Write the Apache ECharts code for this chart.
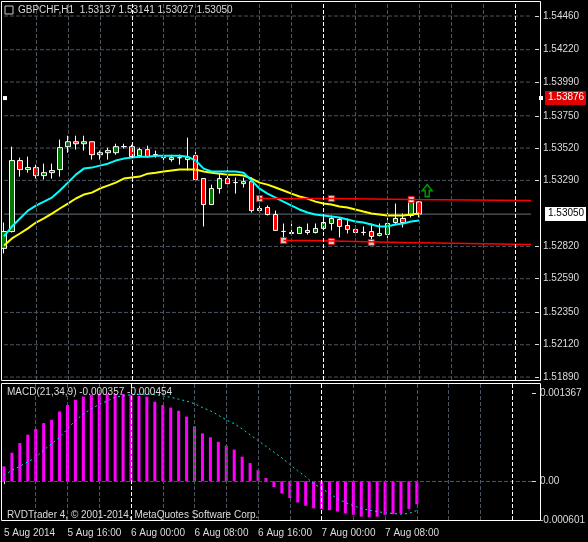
<!DOCTYPE html>
<html><head><meta charset="utf-8">
<script src="https://cdn.jsdelivr.net/npm/echarts@6/dist/echarts.min.js"></script>
<style>html,body{margin:0;padding:0;background:#000}#c{width:588px;height:542px}</style>
</head><body><div id="c"></div>
<script>
// Candles: [open, close, low, high]
const candles = [
[1.52806,1.52926,1.52770,1.52990],[1.52926,1.53431,1.52919,1.53530],[1.53431,1.53367,1.53317,1.53452],
[1.53367,1.53381,1.53345,1.53459],[1.53381,1.53324,1.53303,1.53402],[1.53324,1.53345,1.53296,1.53409],
[1.53345,1.53360,1.53303,1.53409],[1.53367,1.53523,1.53317,1.53580],[1.53530,1.53565,1.53487,1.53608],
[1.53565,1.53551,1.53509,1.53608],[1.53551,1.53565,1.53502,1.53608],[1.53565,1.53473,1.53438,1.53565],
[1.53473,1.53487,1.53438,1.53502],[1.53487,1.53502,1.53438,1.53523],[1.53487,1.53530,1.53473,1.53551],
[1.53530,1.53531,1.53516,1.53551],[1.53530,1.53459,1.53452,1.53544],[1.53466,1.53509,1.53452,1.53523],
[1.53509,1.53459,1.53452,1.53537],[1.53473,1.53474,1.53452,1.53502],[1.53452,1.53453,1.53416,1.53480],
[1.53438,1.53452,1.53423,1.53473],[1.53452,1.53451,1.53402,1.53473],[1.53438,1.53452,1.53360,1.53594],
[1.53466,1.53296,1.53289,1.53502],[1.53303,1.53118,1.52962,1.53303],[1.53118,1.53232,1.53118,1.53260],
[1.53232,1.53303,1.53196,1.53338],[1.53303,1.53267,1.53260,1.53367],[1.53274,1.53275,1.53196,1.53310],
[1.53267,1.53281,1.53239,1.53310],[1.53281,1.53075,1.53061,1.53310],[1.53075,1.53090,1.53061,1.53111],
[1.53097,1.53047,1.53040,1.53111],[1.53047,1.52934,1.52934,1.53075],[1.52926,1.52927,1.52877,1.52983],
[1.52919,1.52912,1.52912,1.52983],[1.52912,1.52955,1.52912,1.52962],[1.52934,1.52919,1.52905,1.52983],
[1.52919,1.52948,1.52912,1.52983],[1.52948,1.52990,1.52934,1.53026],[1.52983,1.53019,1.52934,1.53040],
[1.53012,1.52962,1.52884,1.53026],[1.52969,1.52941,1.52912,1.53019],[1.52941,1.52919,1.52905,1.52969],
[1.52919,1.52920,1.52898,1.52962],[1.52926,1.52891,1.52848,1.52983],[1.52898,1.52912,1.52891,1.52983],
[1.52905,1.52983,1.52877,1.53061],[1.52990,1.53019,1.52969,1.53125],[1.53019,1.52990,1.52955,1.53054],
[1.53040,1.53137,1.53026,1.53161],[1.53137,1.53050,1.53027,1.53141]
];
const maFast = [1.52891,1.52962,1.53019,1.53075,1.53111,1.53139,1.53168,1.53218,1.53274,1.53331,1.53374,1.53381,
1.53395,1.53409,1.53431,1.53445,1.53452,1.53459,1.53459,1.53466,1.53466,1.53466,1.53466,1.53459,1.53431,1.53374,
1.53353,1.53353,1.53353,1.53353,1.53345,1.53289,1.53232,1.53196,1.53168,1.53139,1.53111,1.53083,1.53061,1.53047,
1.53040,1.53033,1.53026,1.53012,1.52997,1.52990,1.52976,1.52962,1.52962,1.52976,1.52983,1.52997,1.53005];
const maSlow = [1.52827,1.52877,1.52912,1.52948,1.52990,1.53019,1.53054,1.53090,1.53125,1.53161,1.53189,1.53203,
1.53232,1.53253,1.53274,1.53303,1.53310,1.53317,1.53338,1.53345,1.53353,1.53360,1.53367,1.53367,1.53367,1.53353,
1.53345,1.53338,1.53331,1.53331,1.53324,1.53303,1.53274,1.53260,1.53239,1.53218,1.53196,1.53175,1.53161,1.53139,
1.53125,1.53118,1.53104,1.53097,1.53083,1.53068,1.53054,1.53047,1.53040,1.53040,1.53040,1.53047,1.53054];
const macdHist = [0.00023,0.00044,0.00059,0.00072,0.00081,0.00090,0.00095,0.00108,0.00118,0.00126,0.00131,0.00134,
0.00135,0.00135,0.00135,0.00135,0.00134,0.00132,0.00131,0.00123,0.00118,0.00114,0.00109,0.00100,0.00085,0.00074,
0.00068,0.00061,0.00055,0.00049,0.00038,0.00028,0.00017,0.00005,-0.00009,-0.00019,-0.00026,-0.00033,-0.00038,
-0.00042,-0.00043,-0.00045,-0.00047,-0.00050,-0.00052,-0.00055,-0.00056,-0.00055,-0.00052,-0.00051,-0.00050,-0.00043,-0.000357];
const macdSignal = [0.00009,0.00017,0.00023,0.00030,0.00037,0.00048,0.00058,0.00068,0.00081,0.00094,0.00104,0.00112,
0.00119,0.00124,0.00130,0.00132,0.00134,0.00134,0.00135,0.00134,0.00132,0.00130,0.00127,0.00124,0.00120,0.00114,
0.00109,0.00102,0.00095,0.00089,0.00081,0.00072,0.00063,0.00054,0.00045,0.00036,0.00026,0.00016,0.00007,-0.00004,
-0.00011,-0.00019,-0.00027,-0.00033,-0.00038,-0.00042,-0.00045,-0.00047,-0.00049,-0.00050,-0.00051,-0.00050,-0.000454];
const upperLevel = [[32,1.53161],[41,1.53161],[51,1.53154],[66,1.53147]];
const lowerLevel = [[35,1.52862],[38,1.52862],[38,1.52855],[44,1.52855],[44,1.52848],[50,1.52848],[50,1.52841],[58,1.52841],[58,1.52834],[66,1.52834]];
const levelMarks = [[32,1.53161],[41,1.53161],[51,1.53154],[35,1.52862],[41,1.52855],[46,1.52848]];
const arrowMark = [[53,1.53217]];
const priceTicks = [1.54460,1.54220,1.53990,1.53750,1.53520,1.53290,1.52820,1.52590,1.52350,1.52120,1.51890];
const gridPrices = [1.54460,1.54220,1.53990,1.53750,1.53520,1.53290,1.53050,1.52820,1.52590,1.52350,1.52120,1.51890];
const lastPrice = 1.53050, alertPrice = 1.53876;
const macdTicks = [0.001367, 0.00, -0.000601];
const timeLabels = {0:'5 Aug 2014',8:'5 Aug 16:00',16:'6 Aug 00:00',24:'6 Aug 08:00',32:'6 Aug 16:00',40:'7 Aug 00:00',48:'7 Aug 08:00'};
const dayLines = [16,40,64];
const N = 67;
const cats = Array.from({length:N},(_,i)=>String(i));

const FONT = 'Liberation Sans';
const fg = '#dcdcdc';
const grey = '#4a5560';
const vGrid = [];
for (let i=4;i<N;i+=4) vGrid.push({xAxis:i, lineStyle:{color: dayLines.includes(i)?'#ffffff':grey, type:'dashed', width:1}});

const gridSeries = gridPrices.map(p=>({type:'line',xAxisIndex:0,yAxisIndex:0,symbol:'none',silent:true,z:0,
  data:[[0,p],[N-1,p]],lineStyle:{color: p===lastPrice?'#66707a':grey,type: p===lastPrice?'solid':'dashed',width:1}}));

const chart = echarts.init(document.getElementById('c'), null, {renderer:'canvas'});
chart.setOption({
  backgroundColor:'#000',
  animation:false,
  textStyle:{fontFamily:FONT},
  grid:[{left:-1,right:53,top:1,height:379},{left:-1,right:53,top:384,height:136}],
  xAxis:[
    {type:'category',data:cats,gridIndex:0,axisLine:{show:false},axisTick:{show:false},axisLabel:{show:false},splitLine:{show:false}},
    {type:'category',data:cats,gridIndex:1,axisLine:{show:false},
     axisTick:{show:true,alignWithLabel:true,interval:(i)=>i in timeLabels,lineStyle:{color:fg},length:3},
     axisLabel:{show:true,interval:(i)=>i in timeLabels,formatter:(v,i)=>timeLabels[i]||'',color:fg,fontSize:10,align:'left',margin:8,fontFamily:FONT},
     splitLine:{show:false}}
  ],
  yAxis:[
    {type:'value',gridIndex:0,position:'right',min:1.51869,max:1.54567,scale:true,
     axisLine:{show:false},splitLine:{show:false},axisTick:{show:true,customValues:priceTicks,length:4,lineStyle:{color:fg}},
     axisLabel:{customValues:priceTicks,formatter:v=>v.toFixed(5),color:fg,fontSize:10,margin:8,fontFamily:FONT}},
    {type:'value',gridIndex:1,position:'right',min:-0.000601,max:0.001505,
     axisLine:{show:false},splitLine:{show:false},axisTick:{show:true,customValues:macdTicks,length:4,lineStyle:{color:fg}},
     axisLabel:{customValues:macdTicks,formatter:v=>v===0?'0.00':v.toFixed(6),color:fg,fontSize:10,margin:8,fontFamily:FONT}}
  ],
  series:gridSeries.concat([
    {type:'line',xAxisIndex:0,yAxisIndex:0,data:[],silent:true,
     markLine:{silent:true,symbol:'none',label:{show:false},lineStyle:{color:grey,type:'dashed',width:1},data:vGrid}},
    {type:'line',xAxisIndex:1,yAxisIndex:1,data:[],silent:true,
     markLine:{silent:true,symbol:'none',label:{show:false},lineStyle:{color:grey,type:'dashed',width:1},data:[{yAxis:0}].concat(vGrid)}},
    {type:'candlestick',xAxisIndex:0,yAxisIndex:0,data:candles,barWidth:5,
     itemStyle:{color:'#007800',color0:'#ff0000',borderColor:'#ffffff',borderColor0:'#ffffff',borderWidth:1}},
    {type:'line',xAxisIndex:0,yAxisIndex:0,data:maSlow,symbol:'none',lineStyle:{color:'#ffff00',width:2}},
    {type:'line',xAxisIndex:0,yAxisIndex:0,data:maFast,symbol:'none',lineStyle:{color:'#00ffff',width:2}},
    {type:'line',xAxisIndex:0,yAxisIndex:0,data:upperLevel,symbol:'none',lineStyle:{color:'#ff0000',width:1.5}},
    {type:'line',xAxisIndex:0,yAxisIndex:0,data:lowerLevel,symbol:'none',lineStyle:{color:'#ff0000',width:1.5}},
    {type:'scatter',xAxisIndex:0,yAxisIndex:0,data:levelMarks,symbol:'rect',symbolSize:6,
     itemStyle:{color:'#ffffff',borderColor:'#ff0000',borderWidth:1}},
    {type:'scatter',xAxisIndex:0,yAxisIndex:0,data:arrowMark,symbol:'path://M5,0 L10,6 L7,6 L7,12 L3,12 L3,6 L0,6 Z',symbolSize:[10,12],
     itemStyle:{color:'#000',borderColor:'#00c000',borderWidth:1.5}},
    {type:'bar',xAxisIndex:1,yAxisIndex:1,data:macdHist,barWidth:3,itemStyle:{color:'#ff00ff'}},
    {type:'line',xAxisIndex:1,yAxisIndex:1,data:macdSignal,symbol:'none',lineStyle:{color:'#00e0e0',width:1,type:[2,3]}}
  ])
});
// price boxes placed through the axis scale
const yLast = chart.convertToPixel({yAxisIndex:0}, lastPrice);
const yAlert = chart.convertToPixel({yAxisIndex:0}, alertPrice);
chart.setOption({graphic:{elements:[
  {id:'f1',type:'rect',shape:{x:1.5,y:1.5,width:539,height:379},style:{fill:'none',stroke:'#ffffff',lineWidth:1},z:100},
  {id:'f2',type:'rect',shape:{x:1.5,y:383.5,width:539,height:137},style:{fill:'none',stroke:'#ffffff',lineWidth:1},z:100},
  {id:'ic',type:'rect',shape:{x:5,y:6,width:8,height:8},style:{fill:'#000',stroke:'#cccccc',lineWidth:1},z:100},
  {id:'t1',type:'text',x:18,y:5,style:{text:'GBPCHF,H1  1.53137 1.53141 1.53027 1.53050',fill:fg,font:'10px '+FONT},z:100},
  {id:'t2',type:'text',x:7,y:387,style:{text:'MACD(21,34,9) -0.000357 -0.000454',fill:fg,font:'10px '+FONT},z:100},
  {id:'t3',type:'text',x:7,y:510,style:{text:'RVDTrader 4, © 2001-2014, MetaQuotes Software Corp.',fill:fg,font:'10px '+FONT},z:100},
  {id:'d1',type:'rect',shape:{x:3,y:yAlert-2,width:4,height:4},style:{fill:'#ffffff'},z:101},
  {id:'d2',type:'rect',shape:{x:539,y:yAlert-2,width:4,height:4},style:{fill:'#ffffff'},z:101},
  {id:'b1',type:'rect',shape:{x:545,y:yLast-7,width:41,height:14},style:{fill:'#ffffff'},z:101},
  {id:'l1',type:'text',x:548,y:yLast-6,style:{text:lastPrice.toFixed(5),fill:'#000',font:'10px '+FONT},z:102},
  {id:'b2',type:'rect',shape:{x:545,y:yAlert-7,width:41,height:14},style:{fill:'#e00000'},z:101},
  {id:'l2',type:'text',x:548,y:yAlert-6,style:{text:alertPrice.toFixed(5),fill:'#fff',font:'10px '+FONT},z:102}
]}});
</script></body></html>
